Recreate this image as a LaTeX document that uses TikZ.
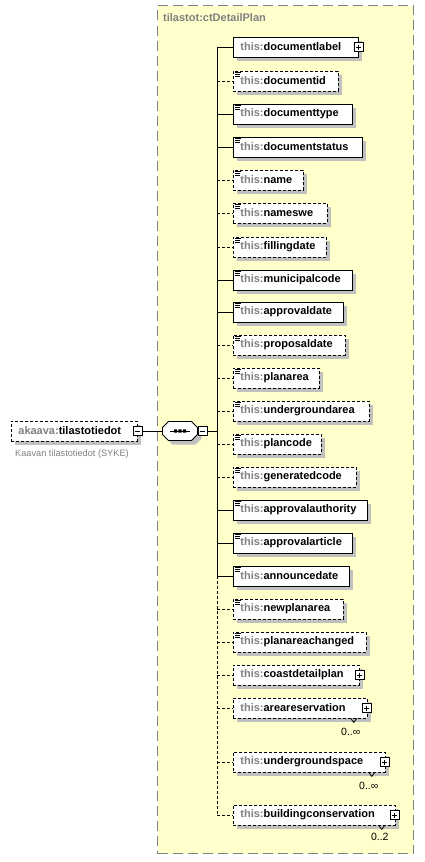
\documentclass[tikz,border=0pt]{standalone}
\usepackage{fontspec}
\setmainfont{Liberation Sans}
\usepackage{xcolor}
\usepackage{tikz}
\usetikzlibrary{positioning,calc,shadows}
\definecolor{typefill}{RGB}{255,255,204}
\definecolor{typeborder}{RGB}{128,128,128}
\definecolor{prefixgray}{RGB}{128,128,128}
\definecolor{shadowgray}{RGB}{192,192,192}
\newcommand{\elname}[2]{\mbox{\textcolor{prefixgray}{#1:}#2}}

\begin{document}
\begin{tikzpicture}[x=1pt, y=-1pt,
        elem/.style={draw, fill=white, anchor=west, minimum height=20, inner xsep=7,
                     inner ysep=0, text width=#1, align=left, line width=0.8,
                     font=\fontsize{11}{13}\selectfont\bfseries,
                     drop shadow={shadow xshift=4pt, shadow yshift=-4pt,
                                  fill=shadowgray, opacity=1}},
        opt/.style={elem=#1, dash pattern=on 3pt off 2pt},
        icon/.style={path picture={
            \draw[solid, line width=0.6]
              ([xshift=1.5,yshift=-1.5]path picture bounding box.north west) -- ++(6.5,0)
              ([xshift=1.5,yshift=-3.3]path picture bounding box.north west) -- ++(5,0)
              ([xshift=1.5,yshift=-5.1]path picture bounding box.north west) -- ++(5.5,0);}},
        expander/.style={draw, solid, fill=white, minimum size=9, inner sep=0, line width=0.8},
        plus/.style={expander, path picture={
            \draw[line width=0.8]
              ([xshift=2]path picture bounding box.west) -- ([xshift=-2]path picture bounding box.east)
              ([yshift=-2]path picture bounding box.north) -- ([yshift=2]path picture bounding box.south);}},
        minus/.style={expander, path picture={
            \draw[line width=0.8]
              ([xshift=2]path picture bounding box.west) -- ([xshift=-2]path picture bounding box.east);}},
        seqbox/.style={minimum width=35, minimum height=19, inner sep=0, outer sep=0},
        seqline/.style={draw, fill=white, line width=0.8,
                        drop shadow={shadow xshift=4pt, shadow yshift=-4pt,
                                     fill=shadowgray, opacity=1}},
        typebox/.style={draw=typeborder, fill=typefill, dash pattern=on 10pt off 5pt,
                        line width=1, inner sep=0},
        typelabel/.style={text=prefixgray, font=\fontsize{11}{13}\selectfont\bfseries, inner sep=0},
        desc/.style={text=prefixgray, font=\fontsize{9.2}{11}\selectfont, inner sep=0},
        mult/.style={font=\fontsize{10.5}{12}\selectfont, inner sep=0},
        link/.style={line width=0.8},
        optlink/.style={link, dash pattern=on 3pt off 2pt},
    ]
        \fill[white] (0,0) rectangle (424,862);
        \useasboundingbox (0,0) rectangle (424,862);

        % Complex type
        \node[typebox, anchor=north west, minimum width=256, minimum height=848]
              (ctDetailPlan) at (157,5) {};
        \node[typelabel, anchor=west] (ctDetailPlanLabel) at (163,18) {tilastot:ctDetailPlan};

        % Root element and sequence
        \node[opt=112] (tilastotiedot) at (11,431) {\elname{akaava}{tilastotiedot}};
        \node[minus] (tilastotiedotMinus) at (tilastotiedot.east) {};
        \node[desc, anchor=base west] (tilastotiedotDesc) at (15,456.5)
              {Kaavan tilastotiedot (SYKE)};
        \node[seqbox] (sequence) at (180,431) {};
        \draw[seqline] ([xshift=6]sequence.north west) -- ([xshift=-6]sequence.north east)
              -- ([yshift=-6]sequence.north east) -- ([yshift=6]sequence.south east)
              -- ([xshift=-6]sequence.south east) -- ([xshift=6]sequence.south west)
              -- ([yshift=6]sequence.south west) -- ([yshift=-6]sequence.north west) -- cycle;
        \draw[link] ([xshift=-10]sequence.center) -- ([xshift=10]sequence.center);
        \fill ([xshift=-6,yshift=-1.5]sequence.center) rectangle ++(3.2pt,3.2pt)
              ([xshift=-1.6,yshift=-1.5]sequence.center) rectangle ++(3.2pt,3.2pt)
              ([xshift=2.8,yshift=-1.5]sequence.center) rectangle ++(3.2pt,3.2pt);
        \node[minus, right=0pt of sequence] (sequenceMinus) {};
        \coordinate (trunk) at (217,431);

        % Child elements
        \node[elem=111] (documentlabel) at (233,47) {\elname{this}{documentlabel}};
        \node[plus] (documentlabelPlus) at (documentlabel.east) {};
        \node[opt=91, icon] (documentid) at (233,81) {\elname{this}{documentid}};
        \node[elem=105, icon] (documenttype) at (233,114) {\elname{this}{documenttype}};
        \node[elem=115, icon] (documentstatus) at (233,147) {\elname{this}{documentstatus}};
        \node[opt=56, icon] (name) at (233,180) {\elname{this}{name}};
        \node[opt=80, icon] (nameswe) at (233,213) {\elname{this}{nameswe}};
        \node[opt=79, icon] (fillingdate) at (233,247) {\elname{this}{fillingdate}};
        \node[elem=105, icon] (municipalcode) at (233,280) {\elname{this}{municipalcode}};
        \node[elem=96, icon] (approvaldate) at (233,312) {\elname{this}{approvaldate}};
        \node[opt=98, icon] (proposaldate) at (233,345) {\elname{this}{proposaldate}};
        \node[opt=72, icon] (planarea) at (233,378) {\elname{this}{planarea}};
        \node[opt=122, icon] (undergroundarea) at (233,411) {\elname{this}{undergroundarea}};
        \node[opt=74, icon] (plancode) at (233,444) {\elname{this}{plancode}};
        \node[opt=109, icon] (generatedcode) at (233,477) {\elname{this}{generatedcode}};
        \node[elem=120, icon] (approvalauthority) at (233,510) {\elname{this}{approvalauthority}};
        \node[elem=105, icon] (approvalarticle) at (233,543) {\elname{this}{approvalarticle}};
        \node[elem=102, icon] (announcedate) at (233,576) {\elname{this}{announcedate}};
        \node[opt=96, icon] (newplanarea) at (233,609) {\elname{this}{newplanarea}};
        \node[opt=119, icon] (planareachanged) at (233,642) {\elname{this}{planareachanged}};
        \node[opt=112] (coastdetailplan) at (233,675) {\elname{this}{coastdetailplan}};
        \node[plus] (coastdetailplanPlus) at (coastdetailplan.east) {};
        \node[opt=120] (areareservation) at (233,708) {\elname{this}{areareservation}};
        \node[plus] (areareservationPlus) at ([xshift=-1]areareservation.east) {};
        \node[opt=138] (undergroundspace) at (233,762) {\elname{this}{undergroundspace}};
        \node[plus] (undergroundspacePlus) at ([xshift=-1]undergroundspace.east) {};
        \node[opt=148] (buildingconservation) at (233,815) {\elname{this}{buildingconservation}};
        \node[plus] (buildingconservationPlus) at ([xshift=-1]buildingconservation.east) {};

        % Occurrences
        \node[mult] (areareservationMult) at ($(areareservation.south east)+(-17,13)$) {0..∞};
        \draw[link] ($(areareservation.south east)+(-17,0)$) -- ++(3,4) -- ++(3,-4);
        \node[mult] (undergroundspaceMult) at ($(undergroundspace.south east)+(-17,13)$) {0..∞};
        \draw[link] ($(undergroundspace.south east)+(-17,0)$) -- ++(3,4) -- ++(3,-4);
        \node[mult] (buildingconservationMult) at ($(buildingconservation.south east)+(-16,11)$) {0..2};
        \draw[link] ($(buildingconservation.south east)+(-17,0)$) -- ++(3,4) -- ++(3,-4);

        % Connectors
        \draw[link] (tilastotiedotMinus) -- (sequence);
        \draw[link] (sequenceMinus) -- (trunk);
        \draw[link] (trunk |- documentlabel.west) -- (trunk |- announcedate.west);
        \draw[optlink] (trunk |- announcedate.west) -- (trunk |- buildingconservation.west);
        \draw[link] (trunk |- documentlabel.west) -- (documentlabel);
        \draw[optlink] (trunk |- documentid.west) -- (documentid);
        \draw[link] (trunk |- documenttype.west) -- (documenttype);
        \draw[link] (trunk |- documentstatus.west) -- (documentstatus);
        \draw[optlink] (trunk |- name.west) -- (name);
        \draw[optlink] (trunk |- nameswe.west) -- (nameswe);
        \draw[optlink] (trunk |- fillingdate.west) -- (fillingdate);
        \draw[link] (trunk |- municipalcode.west) -- (municipalcode);
        \draw[link] (trunk |- approvaldate.west) -- (approvaldate);
        \draw[optlink] (trunk |- proposaldate.west) -- (proposaldate);
        \draw[optlink] (trunk |- planarea.west) -- (planarea);
        \draw[optlink] (trunk |- undergroundarea.west) -- (undergroundarea);
        \draw[optlink] (trunk |- plancode.west) -- (plancode);
        \draw[optlink] (trunk |- generatedcode.west) -- (generatedcode);
        \draw[link] (trunk |- approvalauthority.west) -- (approvalauthority);
        \draw[link] (trunk |- approvalarticle.west) -- (approvalarticle);
        \draw[link] (trunk |- announcedate.west) -- (announcedate);
        \draw[optlink] (trunk |- newplanarea.west) -- (newplanarea);
        \draw[optlink] (trunk |- planareachanged.west) -- (planareachanged);
        \draw[optlink] (trunk |- coastdetailplan.west) -- (coastdetailplan);
        \draw[optlink] (trunk |- areareservation.west) -- (areareservation);
        \draw[optlink] (trunk |- undergroundspace.west) -- (undergroundspace);
        \draw[optlink] (trunk |- buildingconservation.west) -- (buildingconservation);
    \end{tikzpicture}
\end{document}
